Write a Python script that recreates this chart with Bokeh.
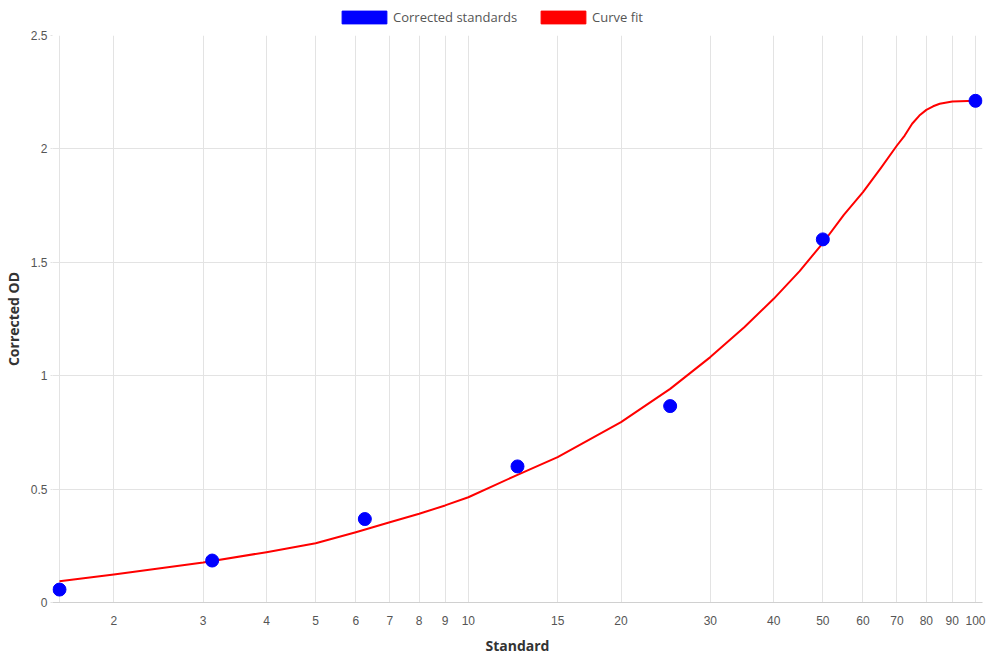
import math
from bokeh.plotting import figure
from bokeh.layouts import column
from bokeh.models import (Range1d, FixedTicker, CustomJSTickFormatter, Legend, LegendItem,
                          ColumnDataSource)
from bokeh.embed import file_html
from bokeh.resources import INLINE

NAN = float("nan")

# Standards (measured points)
std_x = [1.5625, 3.125, 6.25, 12.5, 25, 50, 100]
std_y = [0.057, 0.185, 0.368, 0.600, 0.866, 1.601, 2.212]

# Curve fit
fit_x = [1.5625, 2, 3, 4, 5, 6, 7, 8, 9, 10, 12.5, 15, 20, 25, 30, 35, 40, 45, 50, 55,
         60, 65, 70, 72.5, 75, 77.5, 80, 82.5, 85, 90, 100]
fit_y = [0.094, 0.123, 0.176, 0.222, 0.261, 0.310, 0.354, 0.391, 0.428, 0.464, 0.563,
         0.641, 0.795, 0.942, 1.082, 1.214, 1.339, 1.461, 1.585, 1.709, 1.809, 1.914,
         2.015, 2.059, 2.111, 2.147, 2.172, 2.188, 2.199, 2.209, 2.212]

x_min, x_max = 1.5625, 100
x_ticks = [2, 3, 4, 5, 6, 7, 8, 9, 10, 15, 20, 30, 40, 50, 60, 70, 80, 90, 100]
y_ticks = [0, 0.5, 1, 1.5, 2, 2.5]

x_title = "Standard"
y_title = "Corrected OD"
series_names = ["Corrected standards", "Curve fit"]
series_colors = ["#0000ff", "#ff0000"]

GRID = "#e3e3e3"
TICK_FONT = "Liberation Sans"
TITLE_FONT = "Open Sans"

# ---------- legend strip ----------
lf = figure(width=990, height=25, x_range=Range1d(0, 1), y_range=Range1d(0, 1),
            x_axis_location=None, y_axis_location=None,
            output_backend="svg", toolbar_location=None, min_border=0)
lf.outline_line_color = None
lf.grid.visible = False
lf.border_fill_color = "white"
sw_b = lf.quad(left=[NAN], right=[NAN], top=[NAN], bottom=[NAN], fill_color=series_colors[0],
               line_color=series_colors[0])
sw_r = lf.quad(left=[NAN], right=[NAN], top=[NAN], bottom=[NAN], fill_color=series_colors[1],
               line_color=series_colors[1])
legend = Legend(items=[LegendItem(label=series_names[0], renderers=[sw_b]),
                       LegendItem(label=series_names[1], renderers=[sw_r])],
                orientation="horizontal", location=(284, -0.5),
                glyph_width=56, glyph_height=16, label_standoff=1, spacing=10,
                label_width=132, label_height=13, padding=0, margin=0,
                border_line_color=None, background_fill_alpha=0,
                label_text_font=TITLE_FONT, label_text_font_size="13px",
                label_text_color="#555555")
lf.add_layout(legend, "center")

# ---------- main chart ----------
# small pixel pad so that the end markers are not clipped (axis kept at x_min via grid line)
PX_PER_DECADE = 507.4
pad = 7 / PX_PER_DECADE
x_lo = 10 ** (math.log10(x_min) - pad)
x_hi = 10 ** (math.log10(x_max) + pad)

p = figure(width=990, height=635, x_axis_type="log",
           x_range=Range1d(x_lo, x_hi), y_range=Range1d(0, 2.5),
           output_backend="svg", toolbar_location=None,
           min_border_left=52, min_border_right=8, min_border_top=10, min_border_bottom=58)
p.outline_line_color = None
p.background_fill_color = "white"
p.border_fill_color = "white"

fit_src = ColumnDataSource(dict(x=fit_x, y=fit_y))
std_src = ColumnDataSource(dict(x=std_x, y=std_y))
p.line("x", "y", source=fit_src, line_color=series_colors[1], line_width=2, line_join="round")
p.scatter("x", "y", source=std_src, size=13, fill_color=series_colors[0],
          line_color=series_colors[0])

p.xaxis.ticker = FixedTicker(ticks=x_ticks, minor_ticks=[])
p.yaxis.ticker = FixedTicker(ticks=y_ticks, minor_ticks=[])
p.xaxis.formatter = CustomJSTickFormatter(code="return String(Math.round(tick*100)/100);")
p.yaxis.formatter = CustomJSTickFormatter(code="return String(Math.round(tick*100)/100);")

for ax in (p.xaxis[0], p.yaxis[0]):
    ax.axis_line_color = "#d0d0d0"
    ax.major_tick_line_color = "#d8d8d8"
    ax.minor_tick_line_color = None
    ax.major_tick_in = 0
    ax.major_label_text_font = TICK_FONT
    ax.major_label_text_font_size = "12px"
    ax.major_label_text_color = "#555555"
    ax.axis_label_text_font = TITLE_FONT
    ax.axis_label_text_font_style = "bold"
    ax.axis_label_text_font_size = "14px"
    ax.axis_label_text_color = "#333333"

p.xaxis.major_tick_out = 0
p.xaxis.major_label_standoff = 13
p.xaxis.axis_label = x_title
p.xaxis.axis_label_standoff = 8
p.yaxis.axis_line_color = None
p.yaxis.major_tick_out = 2
p.yaxis.major_tick_line_color = "#e3e3e3"
p.yaxis.major_label_standoff = 3
p.yaxis.axis_label = y_title
p.yaxis.axis_label_standoff = 5

p.xgrid.grid_line_color = GRID
p.ygrid.grid_line_color = GRID
p.xgrid.ticker = FixedTicker(ticks=[x_min] + x_ticks, minor_ticks=[])
p.ygrid.ticker = p.yaxis.ticker

layout = column(lf, p, spacing=0)
open("out.html", "w").write(file_html(layout, INLINE))
